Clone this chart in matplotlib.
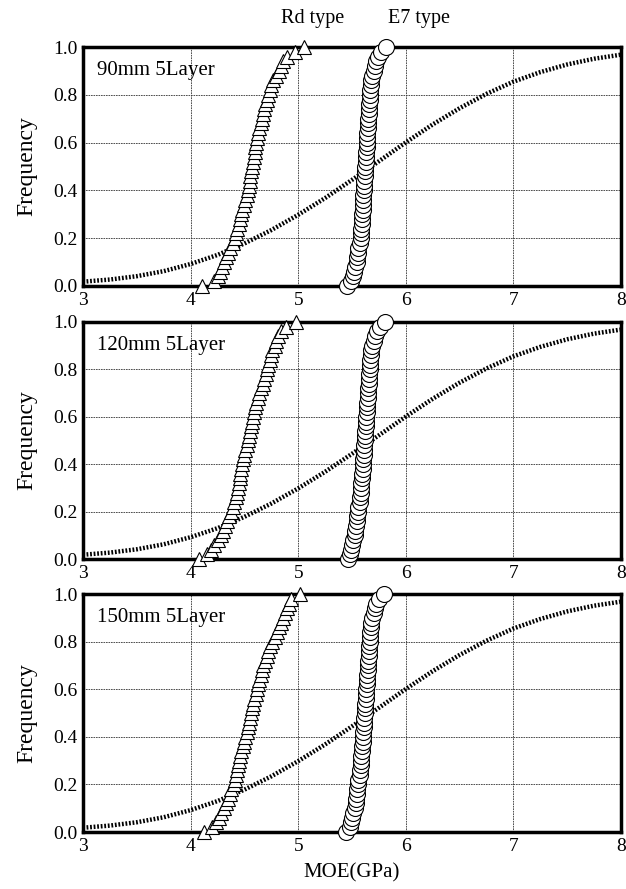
import matplotlib
matplotlib.use('Agg')
import matplotlib.pyplot as plt

plt.rcParams['font.family'] = ['Liberation Serif', 'DejaVu Serif']

# panel labels
panels = ['90mm 5Layer', '120mm 5Layer', '150mm 5Layer']

# Rd type MOE values (GPa), sorted
rd_90 = [4.11, 4.22, 4.25, 4.27, 4.29, 4.31, 4.33, 4.35, 4.37, 4.39,
         4.41, 4.42, 4.43, 4.45, 4.46, 4.47, 4.48, 4.50, 4.51, 4.52,
         4.53, 4.54, 4.55, 4.55, 4.56, 4.57, 4.58, 4.59, 4.60, 4.60,
         4.61, 4.62, 4.63, 4.64, 4.65, 4.66, 4.67, 4.68, 4.69, 4.71,
         4.72, 4.74, 4.75, 4.77, 4.79, 4.82, 4.84, 4.86, 4.90, 4.97, 5.05]
rd_120 = [4.08, 4.15, 4.19, 4.22, 4.25, 4.28, 4.30, 4.32, 4.34, 4.36,
          4.38, 4.39, 4.40, 4.42, 4.43, 4.44, 4.45, 4.46, 4.46, 4.47,
          4.48, 4.49, 4.50, 4.51, 4.52, 4.53, 4.54, 4.55, 4.56, 4.57,
          4.58, 4.59, 4.60, 4.61, 4.63, 4.64, 4.65, 4.67, 4.68, 4.70,
          4.71, 4.72, 4.74, 4.75, 4.76, 4.78, 4.79, 4.81, 4.84, 4.89, 4.98]
rd_150 = [4.12, 4.20, 4.24, 4.26, 4.28, 4.31, 4.33, 4.35, 4.37, 4.38,
          4.40, 4.41, 4.42, 4.43, 4.44, 4.45, 4.46, 4.47, 4.49, 4.50,
          4.51, 4.52, 4.53, 4.54, 4.55, 4.56, 4.57, 4.58, 4.59, 4.61,
          4.62, 4.63, 4.64, 4.65, 4.66, 4.67, 4.69, 4.71, 4.72, 4.74,
          4.76, 4.78, 4.80, 4.82, 4.84, 4.86, 4.88, 4.90, 4.91, 4.93, 5.02]

# E7 type MOE values (GPa)
e7_90 = [5.45, 5.49, 5.51, 5.52, 5.53, 5.55, 5.55, 5.56, 5.56, 5.57,
         5.58, 5.58, 5.58, 5.59, 5.59, 5.59, 5.60, 5.60, 5.60, 5.60,
         5.61, 5.61, 5.61, 5.62, 5.62, 5.62, 5.63, 5.63, 5.63, 5.64,
         5.64, 5.64, 5.64, 5.65, 5.65, 5.65, 5.66, 5.66, 5.66, 5.67,
         5.67, 5.67, 5.68, 5.68, 5.69, 5.70, 5.71, 5.72, 5.74, 5.77, 5.82]
e7_120 = [5.46, 5.48, 5.49, 5.50, 5.51, 5.53, 5.53, 5.54, 5.55, 5.55,
          5.56, 5.56, 5.57, 5.57, 5.58, 5.58, 5.58, 5.59, 5.59, 5.60,
          5.60, 5.60, 5.61, 5.61, 5.61, 5.62, 5.62, 5.62, 5.63, 5.63,
          5.63, 5.64, 5.64, 5.64, 5.65, 5.65, 5.65, 5.66, 5.66, 5.66,
          5.67, 5.67, 5.67, 5.68, 5.68, 5.69, 5.70, 5.71, 5.73, 5.76, 5.81]
e7_150 = [5.44, 5.48, 5.49, 5.50, 5.51, 5.53, 5.54, 5.54, 5.55, 5.55,
          5.56, 5.56, 5.57, 5.57, 5.58, 5.58, 5.58, 5.59, 5.59, 5.60,
          5.60, 5.60, 5.61, 5.61, 5.61, 5.62, 5.62, 5.62, 5.63, 5.63,
          5.63, 5.64, 5.64, 5.64, 5.65, 5.65, 5.65, 5.66, 5.66, 5.66,
          5.67, 5.67, 5.67, 5.68, 5.68, 5.69, 5.70, 5.71, 5.72, 5.75, 5.80]

# cumulative frequency of each sorted sample
freq = [i / 50 for i in range(51)]

# dotted reference curve
curve_x = [3.0, 3.25, 3.5, 3.75, 4.0, 4.25, 4.5, 4.75, 5.0, 5.25, 5.5,
           5.75, 6.0, 6.25, 6.5, 6.75, 7.0, 7.25, 7.5, 7.75, 8.0]
curve_y = [0.018, 0.027, 0.041, 0.062, 0.092, 0.13, 0.178, 0.234, 0.298,
           0.368, 0.444, 0.522, 0.601, 0.676, 0.744, 0.804, 0.855, 0.895,
           0.927, 0.951, 0.968]

rd_all = [rd_90, rd_120, rd_150]
e7_all = [e7_90, e7_120, e7_150]

fig = plt.figure(figsize=(6.26, 8.89), dpi=100)
rects = [[0.1326, 0.6783, 0.8594, 0.2688],
         [0.1326, 0.3712, 0.8594, 0.2666],
         [0.1326, 0.0641, 0.8594, 0.2677]]

for k in range(3):
    ax = fig.add_axes(rects[k])
    ax.set_xlim(3, 8)
    ax.set_ylim(0, 1)
    ax.set_xticks([3, 4, 5, 6, 7, 8])
    ax.set_yticks([0, 0.2, 0.4, 0.6, 0.8, 1.0])
    ax.set_yticklabels(['0.0', '0.2', '0.4', '0.6', '0.8', '1.0'])
    ax.tick_params(length=0, labelsize=14, pad=4)
    ax.grid(True, color='#333333', linestyle=(0, (2, 1)), linewidth=0.6)
    for s in ax.spines.values():
        s.set_linewidth(2.5)

    ax.plot(curve_x, curve_y, color='black', linestyle=(0, (0.4, 0.4)),
            linewidth=3.2, zorder=2)
    ax.plot(rd_all[k], freq, linestyle='none', marker='^', markersize=9.5,
            markerfacecolor='white', markeredgecolor='black',
            markeredgewidth=0.8, zorder=3, clip_on=False)
    ax.plot(e7_all[k], freq, linestyle='none', marker='o', markersize=11.5,
            markerfacecolor='white', markeredgecolor='black',
            markeredgewidth=0.8, zorder=3, clip_on=False)

    ax.text(0.026, 0.9, panels[k], transform=ax.transAxes, fontsize=15,
            va='center', ha='left')
    ax.set_ylabel('Frequency', fontsize=17, labelpad=11)

    if k == 0:
        ax.text(5.13, 1.12, 'Rd type', fontsize=14.5, ha='center', va='center',
                clip_on=False)
        ax.text(6.12, 1.12, 'E7 type', fontsize=14.5, ha='center', va='center',
                clip_on=False)
    if k == 2:
        ax.set_xlabel('MOE(GPa)', fontsize=15, labelpad=6)

fig.savefig('out.png', dpi=100)
